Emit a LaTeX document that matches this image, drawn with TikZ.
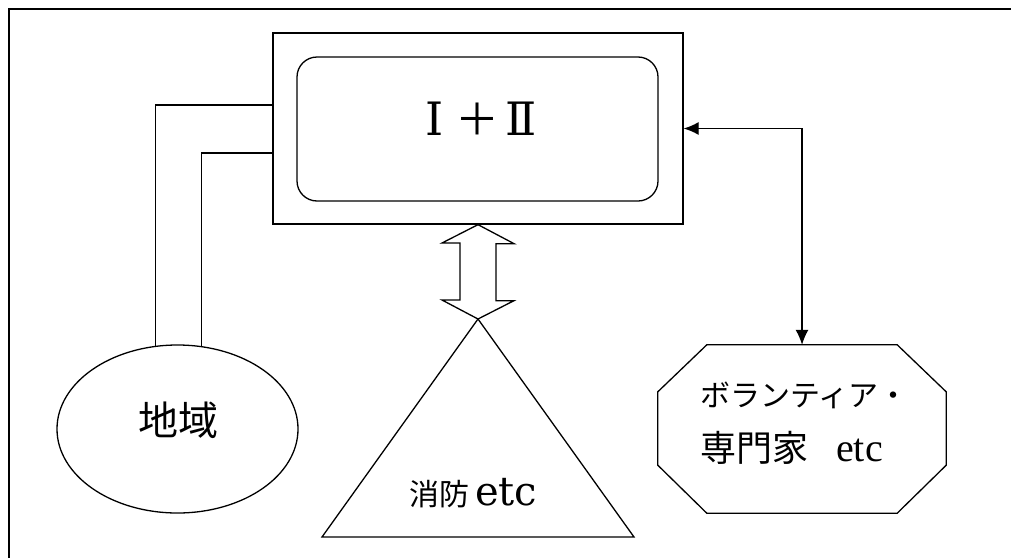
\documentclass[tikz,border=0pt]{standalone}
\usepackage{fontspec}
\newfontfamily\cjk{Noto Sans CJK JP}
\newfontfamily\dvs{DejaVu Serif}
\newfontfamily\lib{Liberation Serif}
\usetikzlibrary{shapes.geometric,arrows.meta,calc}
\tikzset{
  ln/.style={line width=1.3pt, black},
  box/.style={ln, draw, rectangle, inner sep=0pt},
  tip/.style={-{Latex[length=15pt,width=13pt]}},
}
\begin{document}
\begin{tikzpicture}[x=1pt,y=-1pt]
\useasboundingbox (0,0) rectangle (1011,557);
\clip (0,0) rectangle (1011,557);
% outer frame (only top and left edges visible)
\draw[line width=1.6pt] (9,600) -- (9,9) -- (1050,9);
% central boxes
\node[box, minimum width=410pt, minimum height=191pt] (outer) at (478,128.5) {};
\node[box, rounded corners=20pt, minimum width=361pt, minimum height=144pt] (inner) at (477.5,129) {};
\node[anchor=base, inner sep=0pt] (title) at (481.5,135)
  {{\dvs\fontsize{46}{46}\selectfont Ⅰ}\hspace{12pt}{\cjk\fontsize{44}{44}\selectfont ＋}\hspace{6pt}{\dvs\fontsize{46}{46}\selectfont Ⅱ}};
% region ellipse
\node[ln, draw, ellipse, minimum width=241pt, minimum height=168pt, inner sep=0pt] (chiiki) at (177.5,429) {};
\node[anchor=base, inner sep=0pt] (chiikit) at (178,435) {\cjk\fontsize{40}{40}\selectfont 地域};
% connectors from outer box to ellipse
\draw[ln] (outer.west |- {(0,105)}) -| (chiiki.105.9);
\draw[ln] (outer.west |- {(0,153)}) -| (chiiki.74.1);
% fire department triangle
\coordinate (apex) at (478,319);
\draw[ln, line join=miter] (apex) -- (322,537) -- (634,537) -- cycle;
\node[anchor=base west, inner sep=0pt] (fire) at (409,505)
  {{\cjk\fontsize{30}{30}\selectfont 消防}\hspace{6pt}{\dvs\fontsize{40}{40}\selectfont etc}};
% hollow double arrow
\draw[ln, line join=miter, fill=white] (outer.south) -- ++(36,19) -- ++(-18,0) -- ++(0,57) -- ++(18,0)
  -- (apex) -- ++(-36,-19) -- ++(18,0) -- ++(0,-57) -- ++(-18,0) -- cycle;
% volunteers octagon
\node[minimum width=288pt, minimum height=168pt, inner sep=0pt] (vol) at (802,429) {};
\draw[ln, line join=miter] ($(vol.north west)+(49,0)$) -- ($(vol.north east)+(-49,0)$)
  -- ($(vol.north east)+(0,47)$) -- ($(vol.south east)+(0,-48)$)
  -- ($(vol.south east)+(-49,0)$) -- ($(vol.south west)+(49,0)$)
  -- ($(vol.south west)+(0,-48)$) -- ($(vol.north west)+(0,47)$) -- cycle;
\node[anchor=base west, inner sep=0pt] (volt1) at (700,406)
  {\cjk\fontsize{30}{30}\selectfont ボランティア・};
\node[anchor=base west, inner sep=0pt] (volt2) at (700,461)
  {{\cjk\fontsize{36}{36}\selectfont 専門家}\hspace{28pt}{\lib\fontsize{40}{40}\selectfont etc}};
% double-headed connector
\draw[ln, tip, {Latex[length=15pt,width=13pt]}-{Latex[length=15pt,width=13pt]}] (outer.east) -| (vol.north);
\end{tikzpicture}
\end{document}
